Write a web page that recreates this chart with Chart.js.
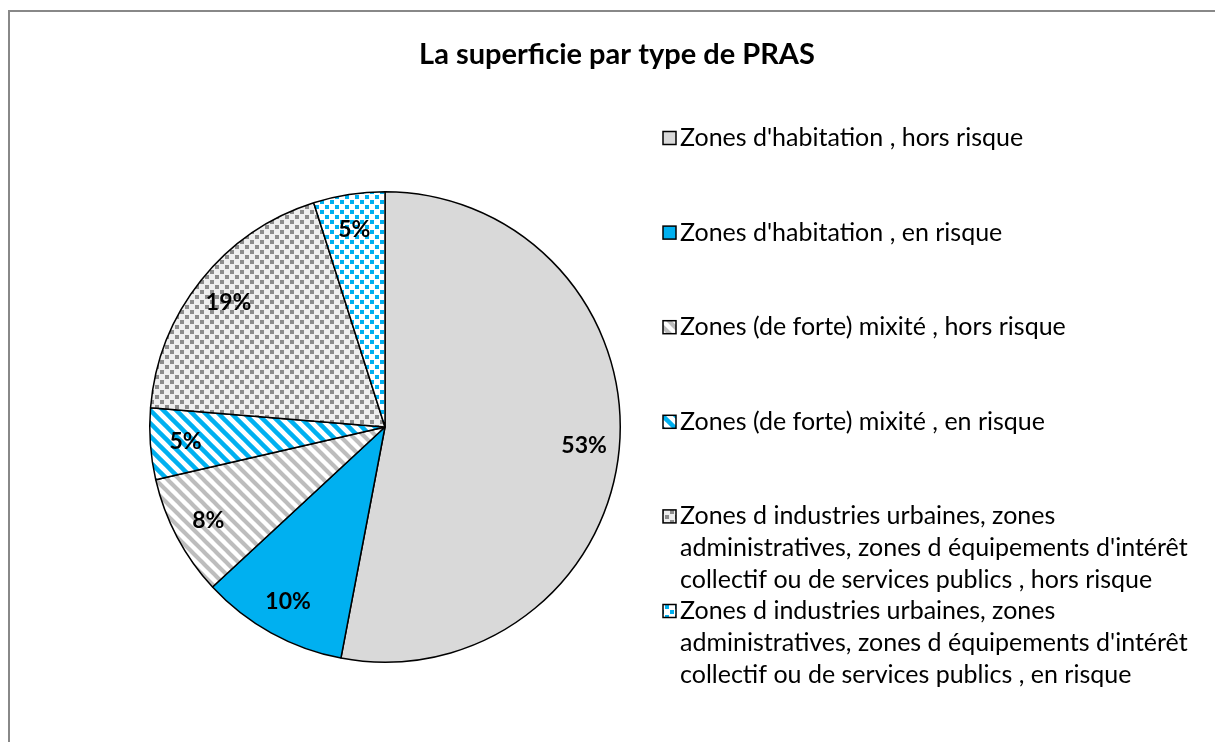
<!DOCTYPE html>
<html>
<head>
<meta charset="utf-8">
<script src="https://cdn.jsdelivr.net/npm/chart.js@4"></script>
<style>
  html, body { margin: 0; padding: 0; background: #fff; }
  #wrap { position: relative; width: 1215px; height: 742px; }
  #frame { position: absolute; left: 8px; top: 10px; right: -10px; bottom: -10px; border: 2px solid #888; }
</style>
</head>
<body>
<div id="wrap">
  <div id="frame"></div>
  <canvas id="pie" width="1215" height="742"></canvas>
</div>
<script>
const chartTitle = 'La superficie par type de PRAS';
const categories = [
  "Zones d'habitation , hors risque",
  "Zones d'habitation , en risque",
  "Zones (de forte) mixité , hors risque",
  "Zones (de forte) mixité , en risque",
  "Zones d industries urbaines, zones administratives, zones d équipements d'intérêt collectif ou de services publics , hors risque",
  "Zones d industries urbaines, zones administratives, zones d équipements d'intérêt collectif ou de services publics , en risque"
];
const shares = [53.0, 10.1, 8.3, 4.9, 18.8, 4.9];
const shareLabels = ['53%', '10%', '8%', '5%', '19%', '5%'];

const BLUE = '#00b0f0';
const GRAY = '#d9d9d9';

// small pattern tiles, like the excel fills
function stripes(color, size) {
  const c = document.createElement('canvas');
  c.width = size; c.height = size;
  const g = c.getContext('2d');
  g.fillStyle = '#fff';
  g.fillRect(0, 0, size, size);
  g.strokeStyle = color;
  g.lineWidth = size * 0.34;
  for (let k = -1; k <= 1; k++) {
    g.beginPath();
    g.moveTo(k * size - 2, -2);
    g.lineTo(k * size + size + 2, size + 2);
    g.stroke();
  }
  return g.createPattern(c, 'repeat');
}

function dots(color, bg, size, dot) {
  const c = document.createElement('canvas');
  c.width = size; c.height = size;
  const g = c.getContext('2d');
  g.fillStyle = bg;
  g.fillRect(0, 0, size, size);
  g.fillStyle = color;
  g.fillRect(0, 0, dot, dot);
  g.fillRect(size / 2, size / 2, dot, dot);
  return g.createPattern(c, 'repeat');
}

const fills = [
  GRAY,
  BLUE,
  stripes('#bdbdbd', 12),
  stripes(BLUE, 13),
  dots('#8c8c8c', '#eeeeee', 10, 4),
  dots(BLUE, '#ffffff', 10, 4)
];

function wrapText(ctx, text, maxWidth) {
  const words = text.split(' ');
  const lines = [];
  let line = '';
  for (const w of words) {
    const test = line ? line + ' ' + w : w;
    if (ctx.measureText(test).width > maxWidth && line) {
      lines.push(line);
      line = w;
    } else {
      line = test;
    }
  }
  if (line) lines.push(line);
  return lines;
}

const excelBits = {
  id: 'excelBits',
  afterDatasetsDraw(chart) {
    const ctx = chart.ctx;
    const meta = chart.getDatasetMeta(0);
    ctx.save();
    // percentage labels
    ctx.font = 'bold 23px Lato';
    ctx.fillStyle = '#000';
    ctx.textAlign = 'center';
    ctx.textBaseline = 'middle';
    meta.data.forEach((arc, i) => {
      const p = arc.getProps(['x', 'y', 'startAngle', 'endAngle', 'outerRadius'], true);
      const mid = (p.startAngle + p.endAngle) / 2;
      const r = p.outerRadius * 0.85;
      ctx.fillText(shareLabels[i], p.x + Math.cos(mid) * r, p.y + Math.sin(mid) * r);
    });

    // title
    ctx.font = 'bold 29px Lato';
    ctx.fillText(chartTitle, 617, 55);

    // legend
    ctx.font = '25px Lato';
    ctx.textAlign = 'left';
    const lineH = 32;
    categories.forEach((name, i) => {
      const y0 = 138 + i * 94.6;
      ctx.fillStyle = fills[i];
      ctx.fillRect(663, y0 - 6.5, 13, 13);
      ctx.strokeStyle = '#000';
      ctx.lineWidth = 1.5;
      ctx.strokeRect(663, y0 - 6.5, 13, 13);
      ctx.fillStyle = '#000';
      wrapText(ctx, name, 518).forEach((ln, j) => {
        ctx.fillText(ln, 680, y0 + j * lineH);
      });
    });
    ctx.restore();
  }
};

new Chart(document.getElementById('pie'), {
  type: 'pie',
  data: {
    labels: categories,
    datasets: [{
      data: shares,
      backgroundColor: fills,
      borderColor: '#000',
      borderWidth: 1.5
    }]
  },
  options: {
    responsive: false,
    animation: false,
    layout: { padding: { left: 149, right: 594, top: 191, bottom: 79 } },
    plugins: {
      legend: { display: false },
      tooltip: { enabled: false }
    }
  },
  plugins: [excelBits]
});
</script>
</body>
</html>
